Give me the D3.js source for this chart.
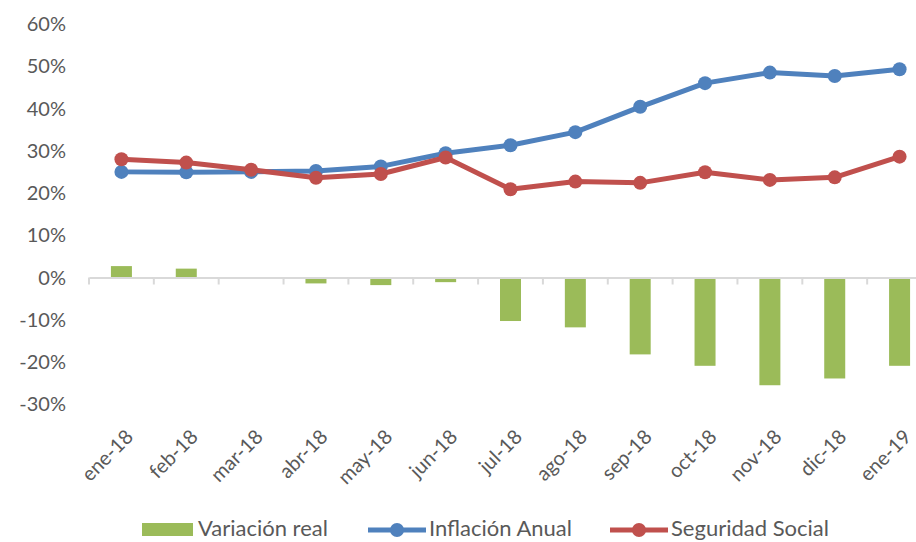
<!DOCTYPE html>
<html>
<head>
<meta charset="utf-8">
<script src="https://cdn.jsdelivr.net/npm/d3@7"></script>
<style>
  body { margin: 0; background: #fff; }
  svg { display: block; font-family: Lato, 'Open Sans', sans-serif; }
</style>
</head>
<body>
<svg width="916" height="542"></svg>
<script>
// Chart data
const months = ['ene-18', 'feb-18', 'mar-18', 'abr-18', 'may-18', 'jun-18', 'jul-18',
  'ago-18', 'sep-18', 'oct-18', 'nov-18', 'dic-18', 'ene-19'];
const realChange = [2.7, 2.1, 0, -1.4, -1.8, -1.1, -10.3, -11.8, -18.2, -20.9, -25.5, -23.9, -20.9];
const inflation = [25.0, 24.9, 25.0, 25.2, 26.3, 29.4, 31.3, 34.4, 40.4, 46.0, 48.5, 47.7, 49.3];
const socialSec = [28.0, 27.2, 25.5, 23.6, 24.5, 28.4, 20.9, 22.7, 22.4, 24.9, 23.1, 23.7, 28.6];
const yTicks = [-30, -20, -10, 0, 10, 20, 30, 40, 50, 60];
const legendNames = ['Variación real', 'Inflación Anual', 'Seguridad Social'];

const green = '#9bbb59', blue = '#4f81bd', red = '#c0504d';
const textColor = '#595959', axisColor = '#d9d9d9';

let svg = d3.select('svg');

// scales (plot runs past the right edge, like the cropped original)
let x = d3.scaleBand().domain(months).range([89, 932]);
let y = d3.scaleLinear().domain([0, 60]).range([277.5, 24]);

// y labels
svg.append('g').selectAll('text')
  .data(yTicks)
  .enter().append('text')
    .attr('x', 66)
    .attr('y', d => y(d))
    .attr('dy', '0.36em')
    .attr('text-anchor', 'end')
    .attr('fill', textColor)
    .style('font-size', '20px')
    .text(d => d + '%');

// bars
svg.append('g').selectAll('rect')
  .data(realChange)
  .enter().append('rect')
    .attr('x', (d, i) => x(months[i]) + x.bandwidth() / 2 - 10.5)
    .attr('width', 21)
    .attr('y', d => y(Math.max(0, d)))
    .attr('height', d => Math.abs(y(d) - y(0)))
    .attr('fill', green);

// category axis at 0%
let xAxis = d3.axisBottom(x).tickSize(0).tickFormat('');
let ax = svg.append('g')
  .attr('transform', `translate(0,${y(0)})`)
  .call(xAxis);
ax.select('.domain').attr('stroke', axisColor).attr('stroke-width', 2);
ax.selectAll('.sep')
  .data(months)
  .enter().append('line')
    .attr('class', 'sep')
    .attr('x1', d => x(d)).attr('x2', d => x(d))
    .attr('y1', 0).attr('y2', 7)
    .attr('stroke', axisColor).attr('stroke-width', 2);

// rotated month labels
svg.append('g').selectAll('text')
  .data(months)
  .enter().append('text')
    .attr('transform', d => `translate(${x(d) + x.bandwidth() / 2 + 13},${438}) rotate(-45)`)
    .attr('text-anchor', 'end')
    .attr('fill', textColor)
    .style('font-size', '20px')
    .text(d => d);

// lines
let line = d3.line()
  .x((d, i) => x(months[i]) + x.bandwidth() / 2)
  .y(d => y(d));

function drawSeries(values, color) {
  let g = svg.append('g');
  g.append('path')
    .datum(values)
    .attr('d', line)
    .attr('fill', 'none')
    .attr('stroke', color)
    .attr('stroke-width', 5)
    .attr('stroke-linejoin', 'round');
  g.selectAll('circle')
    .data(values)
    .enter().append('circle')
      .attr('cx', (d, i) => x(months[i]) + x.bandwidth() / 2)
      .attr('cy', d => y(d))
      .attr('r', 7)
      .attr('fill', color);
}
drawSeries(inflation, blue);
drawSeries(socialSec, red);

// legend
let legend = svg.append('g').attr('transform', 'translate(0,530)');
legend.append('rect')
  .attr('x', 142).attr('y', -7).attr('width', 51).attr('height', 13)
  .attr('fill', green);
legend.append('text')
  .attr('x', 198).attr('y', 6)
  .attr('fill', textColor).style('font-size', '22px')
  .text(legendNames[0]);

[[368, blue, legendNames[1]], [610, red, legendNames[2]]].forEach(function (item) {
  legend.append('line')
    .attr('x1', item[0]).attr('x2', item[0] + 58)
    .attr('stroke', item[1]).attr('stroke-width', 5);
  legend.append('circle')
    .attr('cx', item[0] + 29).attr('r', 7).attr('fill', item[1]);
  legend.append('text')
    .attr('x', item[0] + 61).attr('y', 6)
    .attr('fill', textColor).style('font-size', '22px')
    .text(item[2]);
});
</script>
</body>
</html>
